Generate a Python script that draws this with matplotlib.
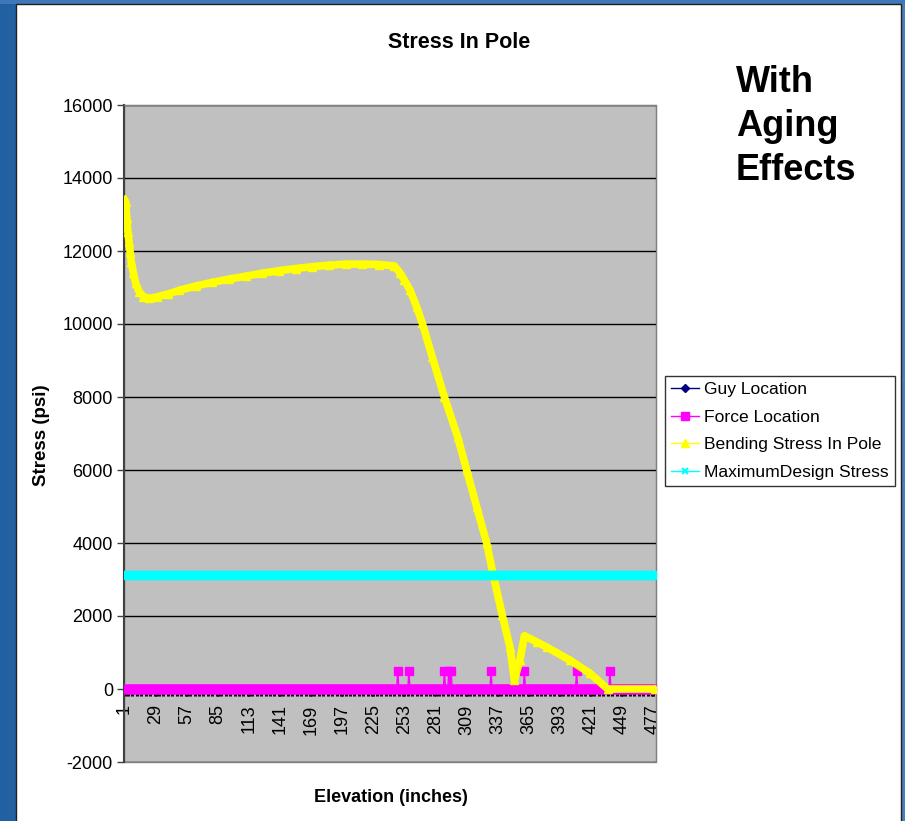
import matplotlib
matplotlib.use('Agg')
import matplotlib.pyplot as plt
import numpy as np
from matplotlib.lines import Line2D
from matplotlib.patches import Rectangle
from matplotlib.ticker import MultipleLocator

plt.rcParams['font.family'] = ['Liberation Sans', 'DejaVu Sans']
plt.rcParams['axes.unicode_minus'] = False

# categories (elevation in inches)
n_points = 479
elevations = np.arange(1, n_points + 1)

# bending stress at key elevations
bend_elev = [1, 2, 3, 4, 5, 6, 7, 9, 11, 14, 18, 23, 30, 40, 50, 65, 80, 95,
             110, 125, 140, 155, 170, 185, 200, 215, 230, 244, 249, 253, 258,
             264, 269, 278, 289, 301, 309, 318, 327, 333, 341, 348, 352, 357,
             361, 372, 381, 402, 420, 436, 479]
bend_stress = [13400, 13350, 12900, 12530, 12250, 11980, 11710, 11400, 11120,
               10890, 10750, 10700, 10740, 10820, 10920, 11040, 11140, 11230,
               11310, 11390, 11460, 11520, 11570, 11610, 11640, 11640, 11630,
               11590, 11400, 11200, 10930, 10470, 10030, 9100, 8000, 6900,
               6000, 5000, 4000, 3120, 2030, 1150, 250, 800, 1460, 1290, 1150,
               790, 430, 0, 0]

# force locations (stress marker shown at 500, otherwise 0)
force_elev = [247, 257, 289, 293, 295, 331, 361, 408, 438]
force_marker_value = 500

guy_value = 0
max_design_stress = 3120

x_tick_labels = [1, 29, 57, 85, 113, 141, 169, 197, 225, 253, 281, 309, 337,
                 365, 393, 421, 449, 477]
y_tick_values = [-2000, 0, 2000, 4000, 6000, 8000, 10000, 12000, 14000, 16000]

force_stress = np.zeros(n_points)
force_stress[np.array(force_elev) - 1] = force_marker_value
guy_stress = np.full(n_points, guy_value)
design_stress = np.full(n_points, max_design_stress)

W, H = 905, 821
fig = plt.figure(figsize=(W / 100, H / 100), dpi=100)
fig.patch.set_facecolor('#2160a1')
fig.patches.append(Rectangle((901 / W, 0), 4 / W, 1, transform=fig.transFigure,
                             facecolor='#4a7fc0', edgecolor='none', zorder=-3))
fig.patches.append(Rectangle((0, 1 - 4 / H), 1, 4 / H, transform=fig.transFigure,
                             facecolor='#3f78ba', edgecolor='none', zorder=-3))
fig.patches.append(Rectangle((16 / W, -0.01), (901 - 16) / W, 1 - 4 / H + 0.01,
                             transform=fig.transFigure, facecolor='white',
                             edgecolor='#202020', lw=1, zorder=-2))

ax = fig.add_axes([124 / W, 1 - 762 / H, (656 - 124) / W, (762 - 105) / H])
ax.set_facecolor('#c0c0c0')
ax.patch.set_edgecolor('#808080')
ax.patch.set_linewidth(1)

ax.plot(elevations, guy_stress, color='#000080', marker='D', ms=3, lw=1, zorder=2)
ax.plot(elevations, force_stress, color='#ff00ff', marker='s', ms=5.5,
        mec='#ff00ff', lw=1, zorder=3)
ax.plot(bend_elev, bend_stress, color='#ffff00', marker='^', ms=6,
        mec='#ffff00', lw=5.5, zorder=4)
ax.plot(elevations, design_stress, color='#00ffff', marker='x', ms=6, mew=2,
        lw=1, zorder=5)

ax.set_xlim(0.5, n_points + 0.5)
ax.set_ylim(-2000, 16000)
ax.set_yticks(y_tick_values)
ax.set_xticks(x_tick_labels)
ax.set_xticklabels([str(v) for v in x_tick_labels])
ax.xaxis.set_minor_locator(MultipleLocator(4))

ax.yaxis.grid(True, color='black', lw=1)
ax.set_axisbelow(True)

for side in ['top', 'right']:
    ax.spines[side].set_color('#808080')
ax.spines['left'].set_color('#404040')
ax.spines['left'].set_linewidth(1.5)
ax.spines['bottom'].set_position(('data', 0))
ax.spines['bottom'].set_color('black')

ax.tick_params(axis='x', which='both', direction='out', length=5, width=2.2,
               color='black', labelsize=13, pad=6, labelrotation=90)
ax.tick_params(axis='y', direction='out', length=5, width=1, color='#404040',
               labelsize=13, pad=3)

fig.text(459 / W, 1 - 42 / H, 'Stress In Pole', ha='center', va='center',
         fontsize=15.5, fontweight='bold')
fig.text(42 / W, 1 - 435 / H, 'Stress (psi)', rotation=90, ha='center',
         va='center', fontsize=13.5, fontweight='bold')
fig.text(391 / W, 1 - 797 / H, 'Elevation (inches)', ha='center', va='center',
         fontsize=13, fontweight='bold')
fig.text(736 / W, 1 - 65 / H, 'With\nAging\nEffects', ha='left', va='top',
         fontsize=26, fontweight='bold', linespacing=1.33)

handles = [
    Line2D([], [], color='#000080', marker='D', ms=4, lw=1),
    Line2D([], [], color='#ff00ff', marker='s', ms=6, lw=1),
    Line2D([], [], color='#ffff00', marker='^', ms=6, lw=1),
    Line2D([], [], color='#00ffff', marker='x', ms=5, mew=1.5, lw=1),
]
labels = ['Guy Location', 'Force Location', 'Bending Stress In Pole',
          'MaximumDesign Stress']
leg = fig.legend(handles, labels, loc='upper left',
                 bbox_to_anchor=(665 / W, 1 - 376 / H), fontsize=12.6,
                 frameon=True, fancybox=False, edgecolor='black',
                 handlelength=1.6, handletextpad=0.3, borderpad=0.35,
                 labelspacing=0.7, borderaxespad=0)
leg.get_frame().set_linewidth(1)

fig.savefig('out.png', dpi=100)
